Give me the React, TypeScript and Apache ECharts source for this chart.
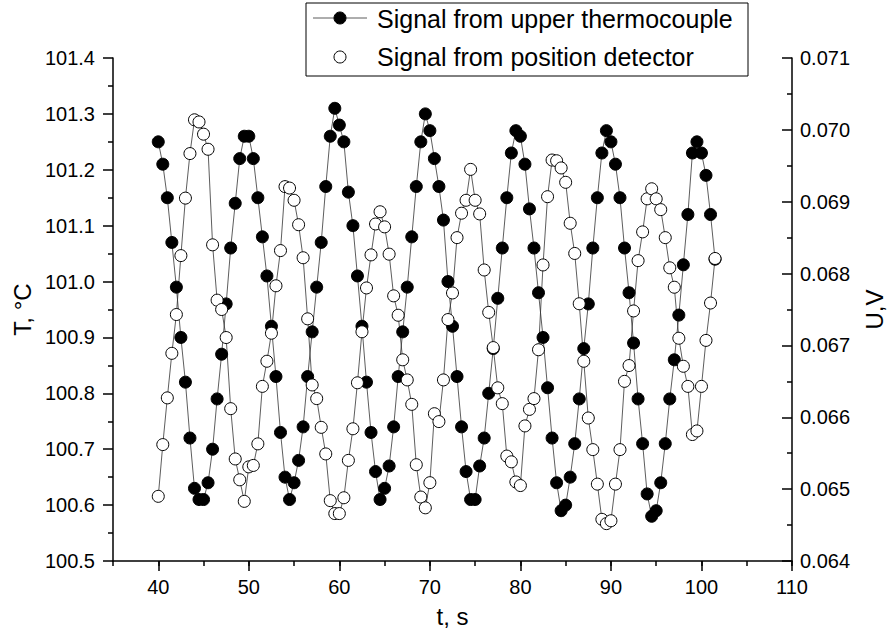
import React, { useEffect, useRef } from "react";
import * as echarts from "echarts";

const time = [
  40, 40.5, 41, 41.5, 42, 42.5, 43, 43.5, 44, 44.5, 45, 45.5, 46, 46.5, 47, 47.5, 48, 48.5, 49, 49.5,
  50, 50.5, 51, 51.5, 52, 52.5, 53, 53.5, 54, 54.5, 55, 55.5, 56, 56.5, 57, 57.5, 58, 58.5, 59, 59.5,
  60, 60.5, 61, 61.5, 62, 62.5, 63, 63.5, 64, 64.5, 65, 65.5, 66, 66.5, 67, 67.5, 68, 68.5, 69, 69.5,
  70, 70.5, 71, 71.5, 72, 72.5, 73, 73.5, 74, 74.5, 75, 75.5, 76, 76.5, 77, 77.5, 78, 78.5, 79, 79.5,
  80, 80.5, 81, 81.5, 82, 82.5, 83, 83.5, 84, 84.5, 85, 85.5, 86, 86.5, 87, 87.5, 88, 88.5, 89, 89.5,
  90, 90.5, 91, 91.5, 92, 92.5, 93, 93.5, 94, 94.5, 95, 95.5, 96, 96.5, 97, 97.5, 98, 98.5, 99, 99.5,
  100, 100.5, 101, 101.5,
];

// Signal from upper thermocouple, T (°C)
const temperature = [
  101.25, 101.21, 101.15, 101.07, 100.99, 100.9, 100.82, 100.72, 100.63, 100.61,
  100.61, 100.64, 100.7, 100.79, 100.87, 100.96, 101.06, 101.14, 101.22, 101.26,
  101.26, 101.22, 101.15, 101.08, 101.01, 100.92, 100.83, 100.73, 100.65, 100.61,
  100.64, 100.68, 100.74, 100.83, 100.91, 100.99, 101.07, 101.17, 101.26, 101.31,
  101.28, 101.25, 101.16, 101.1, 101.01, 100.92, 100.82, 100.73, 100.66, 100.61,
  100.63, 100.67, 100.74, 100.83, 100.91, 100.99, 101.08, 101.17, 101.25, 101.3,
  101.27, 101.22, 101.17, 101.11, 101.0, 100.92, 100.83, 100.74, 100.66, 100.61,
  100.61, 100.67, 100.72, 100.8, 100.88, 100.97, 101.06, 101.15, 101.23, 101.27,
  101.26, 101.21, 101.13, 101.06, 100.98, 100.9, 100.81, 100.72, 100.64, 100.59,
  100.6, 100.65, 100.71, 100.79, 100.88, 100.96, 101.06, 101.15, 101.23, 101.27,
  101.25, 101.21, 101.15, 101.06, 100.98, 100.89, 100.79, 100.71, 100.62, 100.58,
  100.59, 100.64, 100.71, 100.79, 100.86, 100.94, 101.03, 101.12, 101.23, 101.25,
  101.23, 101.19, 101.12, 101.04,
];

// Signal from position detector, U (V)
const voltage = [
  0.0649, 0.06562, 0.06627, 0.06689, 0.06743, 0.06825, 0.06905, 0.06967, 0.07014, 0.07011,
  0.06994, 0.06973, 0.0684, 0.06763, 0.0675, 0.06711, 0.06612, 0.06542, 0.06513, 0.06483,
  0.06531, 0.06533, 0.06563, 0.06643, 0.06678, 0.06717, 0.06783, 0.06832, 0.06921, 0.06919,
  0.06902, 0.06868, 0.06822, 0.06737, 0.06645, 0.06626, 0.06586, 0.06549, 0.06484, 0.06466,
  0.06466, 0.06488, 0.0654, 0.06584, 0.06648, 0.06719, 0.0678, 0.06826, 0.06869, 0.06886,
  0.06865, 0.06827, 0.06769, 0.06742, 0.0668, 0.06652, 0.06618, 0.06534, 0.06489, 0.06474,
  0.06509, 0.06605, 0.06594, 0.06652, 0.06736, 0.06773, 0.0685, 0.06884, 0.06902, 0.06945,
  0.06902, 0.06883, 0.06805, 0.06746, 0.06697, 0.06641, 0.06619, 0.06546, 0.06538, 0.0651,
  0.06505, 0.06588, 0.06611, 0.06626, 0.06694, 0.06812, 0.06907, 0.06958, 0.06957, 0.06947,
  0.06927, 0.0687, 0.06828, 0.06758, 0.06678, 0.06599, 0.06555, 0.06507, 0.06458, 0.06452,
  0.06456, 0.06507, 0.06555, 0.0665, 0.06672, 0.06748, 0.06818, 0.06858, 0.06904, 0.06918,
  0.06904, 0.06889, 0.0685, 0.06808, 0.06781, 0.0671, 0.06671, 0.06643, 0.06576, 0.06581,
  0.06643, 0.06707, 0.06759, 0.06821,
];

const xMajorTicks = [40, 50, 60, 70, 80, 90, 100, 110];
const seriesNames = ["Signal from upper thermocouple", "Signal from position detector"];

const FONT = "'Liberation Sans', Arial, Helvetica, sans-serif";

export default function App() {
  const ref = useRef<HTMLDivElement>(null);

  useEffect(() => {
    if (!ref.current) return;
    const chart = echarts.init(ref.current, null, { renderer: "svg" });
    const axisLine = { show: true, lineStyle: { color: "#000", width: 1.5 } };
    const tickStyle = { color: "#000", width: 1.5 };
    const labelStyle = { color: "#000", fontSize: 20, fontFamily: FONT };
    const nameStyle = { color: "#000", fontSize: 24, fontFamily: FONT };

    chart.setOption({
      animation: false,
      backgroundColor: "#fff",
      grid: { left: 113, right: 96, top: 58, bottom: 71, containLabel: false },
      xAxis: [
        {
          type: "value",
          min: 35,
          max: 110,
          interval: 5,
          name: "t, s",
          nameLocation: "middle",
          nameGap: 43,
          nameTextStyle: nameStyle,
          axisLine,
          axisTick: { show: true, length: 5, lineStyle: tickStyle },
          axisLabel: {
            ...labelStyle,
            margin: 16,
            formatter: (v: number) => (v % 10 === 0 ? String(v) : ""),
          },
          splitLine: { show: false },
        },
        {
          type: "value",
          position: "bottom",
          min: 35,
          max: 110,
          interval: 5,
          axisLine: { show: false },
          axisLabel: { show: false },
          axisTick: { show: true, length: 10, customValues: xMajorTicks, lineStyle: tickStyle },
          splitLine: { show: false },
        },
      ],
      yAxis: [
        {
          type: "value",
          position: "left",
          min: 100.5,
          max: 101.4,
          interval: 0.1,
          name: "T, °C",
          nameLocation: "middle",
          nameRotate: 90,
          nameGap: 79,
          nameTextStyle: nameStyle,
          axisLine,
          axisTick: { show: true, length: 10, lineStyle: tickStyle },
          minorTick: { show: true, splitNumber: 2, length: 5, lineStyle: tickStyle },
          axisLabel: { ...labelStyle, margin: 18, formatter: (v: number) => v.toFixed(1) },
          splitLine: { show: false },
        },
        {
          type: "value",
          position: "right",
          min: 0.064,
          max: 0.071,
          interval: 0.001,
          name: "U,V",
          nameLocation: "middle",
          nameRotate: 90,
          nameGap: 70,
          nameTextStyle: nameStyle,
          axisLine,
          axisTick: { show: true, inside: true, length: 10, lineStyle: tickStyle },
          minorTick: { show: true, splitNumber: 2, length: 5, lineStyle: tickStyle },
          axisLabel: { ...labelStyle, margin: 8, formatter: (v: number) => v.toFixed(3) },
          splitLine: { show: false },
        },
      ],
      series: [
        {
          name: seriesNames[0],
          type: "line",
          xAxisIndex: 0,
          yAxisIndex: 0,
          data: time.map((t, i) => [t, temperature[i]]),
          symbol: "circle",
          symbolSize: 12,
          showSymbol: true,
          itemStyle: { color: "#000", borderColor: "#000", borderWidth: 1 },
          lineStyle: { color: "#333", width: 0.8 },
        },
        {
          name: seriesNames[1],
          type: "line",
          xAxisIndex: 0,
          yAxisIndex: 1,
          data: time.map((t, i) => [t, voltage[i]]),
          symbol: "circle",
          symbolSize: 12,
          showSymbol: true,
          itemStyle: { color: "#fff", borderColor: "#000", borderWidth: 1 },
          lineStyle: { color: "#333", width: 0.8 },
        },
      ],
      graphic: [
        {
          type: "group",
          z: 100,
          children: [
            {
              type: "rect",
              shape: { x: 306, y: 3, width: 442, height: 73 },
              style: { fill: "#fff", stroke: "#000", lineWidth: 1 },
            },
            {
              type: "line",
              shape: { x1: 313, y1: 18, x2: 367, y2: 18 },
              style: { stroke: "#333", lineWidth: 0.8 },
            },
            {
              type: "circle",
              shape: { cx: 340, cy: 18, r: 6 },
              style: { fill: "#000", stroke: "#000", lineWidth: 1 },
            },
            {
              type: "text",
              x: 377,
              y: 19,
              style: {
                text: seriesNames[0],
                fill: "#000",
                font: `25px ${FONT}`,
                verticalAlign: "middle",
                align: "left",
              },
            },
            {
              type: "circle",
              shape: { cx: 340, cy: 57, r: 6 },
              style: { fill: "#fff", stroke: "#000", lineWidth: 1 },
            },
            {
              type: "text",
              x: 377,
              y: 57,
              style: {
                text: seriesNames[1],
                fill: "#000",
                font: `25px ${FONT}`,
                verticalAlign: "middle",
                align: "left",
              },
            },
          ],
        },
      ],
    });

    return () => chart.dispose();
  }, []);

  return (
    <div
      ref={ref}
      style={{ position: "fixed", left: 0, top: 0, width: 894, height: 633, background: "#fff" }}
    />
  );
}
